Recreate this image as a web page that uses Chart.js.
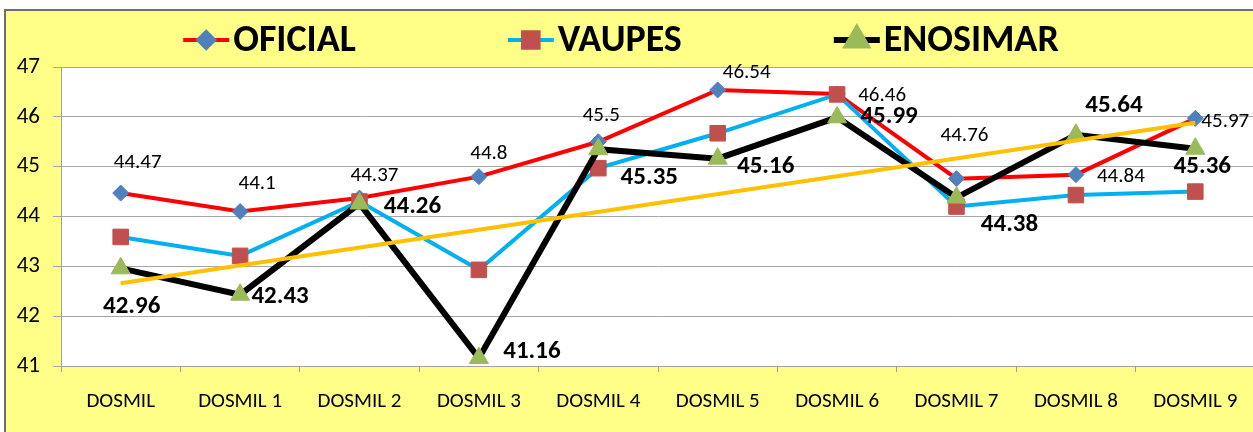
<!DOCTYPE html>
<html>
<head>
<meta charset="utf-8">
<script src="https://cdn.jsdelivr.net/npm/chart.js@4"></script>
<style>
html, body { margin: 0; padding: 0; background: #fff; overflow: hidden; }
canvas { display: block; }
</style>
</head>
<body>
<canvas id="chart" width="1267" height="432"></canvas>
<script>
var categories = ["DOSMIL", "DOSMIL 1", "DOSMIL 2", "DOSMIL 3", "DOSMIL 4", "DOSMIL 5", "DOSMIL 6", "DOSMIL 7", "DOSMIL 8", "DOSMIL 9"];
var oficial = [44.47, 44.1, 44.37, 44.8, 45.5, 46.54, 46.46, 44.76, 44.84, 45.97];
var vaupes = [43.59, 43.21, 44.3, 42.93, 44.97, 45.67, 46.45, 44.2, 44.43, 44.5];
var enosimar = [42.96, 42.43, 44.26, 41.16, 45.35, 45.16, 45.99, 44.38, 45.64, 45.36];
// linea de tendencia (extremos)
var trend = [42.66, null, null, null, null, null, null, null, null, 45.88];
var yMin = 41, yMax = 47, yStep = 1;

var fontFamily = 'Carlito, Lato, "Liberation Sans", sans-serif';

// desplazamiento de las etiquetas respecto al punto (px)
var oficialLabelOffsets = [[17,-30],[17,-28],[15,-22],[10,-23],[3,-26],[29,-17],[45,2],[8,-43],[45,2],[30,3]];
var enosimarLabelOffsets = [[11,38],[40,2],[53,3],[53,-6],[51,29],[48,8],[52,-1],[53,27],[38,-29],[7,18]];

var backgroundPlugin = {
  id: 'excelBackground',
  beforeDraw: function(chart) {
    var ctx = chart.ctx, a = chart.chartArea;
    ctx.save();
    ctx.fillStyle = '#ffffff';
    ctx.fillRect(0, 0, chart.width, chart.height);
    ctx.fillStyle = '#ffff88';
    ctx.fillRect(5, 10, chart.width, chart.height);
    ctx.strokeStyle = '#6e6e6e';
    ctx.lineWidth = 2;
    ctx.beginPath();
    ctx.moveTo(5, chart.height + 5);
    ctx.lineTo(5, 10);
    ctx.lineTo(chart.width + 5, 10);
    ctx.stroke();
    ctx.fillStyle = '#ffffff';
    ctx.fillRect(a.left, a.top, a.right - a.left, a.bottom - a.top);
    ctx.restore();
  }
};

var labelPlugin = {
  id: 'valueLabels',
  afterDatasetsDraw: function(chart) {
    var ctx = chart.ctx;
    ctx.save();
    ctx.fillStyle = '#000';
    ctx.textAlign = 'center';
    ctx.textBaseline = 'middle';
    chart.data.datasets.forEach(function(ds, i) {
      if (!ds.labelOffsets) return;
      var meta = chart.getDatasetMeta(i);
      ctx.font = ds.labelFont;
      meta.data.forEach(function(pt, j) {
        var off = ds.labelOffsets[j];
        ctx.fillText(String(ds.data[j]), pt.x + off[0], pt.y + off[1]);
      });
    });
    ctx.restore();
  }
};

var legendPlugin = {
  id: 'excelLegend',
  afterDraw: function(chart) {
    var ctx = chart.ctx;
    var items = chart.data.datasets.filter(function(d) { return d.label; });
    var symW = 46, textGap = 4, itemGap = 152, y = 40;
    ctx.save();
    ctx.font = 'bold 38px ' + fontFamily;
    var total = 0;
    items.forEach(function(d, i) {
      total += symW + textGap + ctx.measureText(d.label).width + (i ? itemGap : 0);
    });
    var x = 621 - total / 2;
    items.forEach(function(d) {
      ctx.strokeStyle = d.borderColor;
      ctx.lineWidth = d.borderWidth;
      ctx.beginPath();
      ctx.moveTo(x, y);
      ctx.lineTo(x + symW, y);
      ctx.stroke();
      ctx.fillStyle = d.pointBackgroundColor;
      ctx.strokeStyle = d.pointBorderColor;
      Chart.helpers.drawPoint(ctx, {pointStyle: d.pointStyle, radius: d.pointRadius, rotation: 0, borderWidth: 1}, x + symW / 2, y);
      ctx.fillStyle = '#000';
      ctx.textBaseline = 'middle';
      ctx.textAlign = 'left';
      ctx.fillText(d.label, x + symW + textGap, y + 1);
      x += symW + textGap + ctx.measureText(d.label).width + itemGap;
    });
    ctx.restore();
  }
};

new Chart(document.getElementById('chart'), {
  type: 'line',
  data: {
    labels: categories,
    datasets: [{
      label: 'OFICIAL',
      data: oficial,
      borderColor: '#ff0000',
      borderWidth: 4,
      pointStyle: 'rectRot',
      pointRadius: 8,
      pointBackgroundColor: '#4f81bd',
      pointBorderColor: '#4f81bd',
      pointBorderWidth: 1,
      labelOffsets: oficialLabelOffsets,
      labelFont: '21px ' + fontFamily,
      order: 3
    }, {
      label: 'VAUPES',
      data: vaupes,
      borderColor: '#00b0f0',
      borderWidth: 4,
      pointStyle: 'rect',
      pointRadius: 11,
      pointBackgroundColor: '#c0504d',
      pointBorderColor: '#c0504d',
      pointBorderWidth: 1,
      order: 2
    }, {
      label: 'ENOSIMAR',
      data: enosimar,
      borderColor: '#000000',
      borderWidth: 6,
      pointStyle: 'triangle',
      pointRadius: 11,
      pointBackgroundColor: '#9bbb59',
      pointBorderColor: '#9bbb59',
      pointBorderWidth: 1,
      labelOffsets: enosimarLabelOffsets,
      labelFont: 'bold 25px ' + fontFamily,
      order: 1
    }, {
      data: trend,
      borderColor: '#ffc000',
      borderWidth: 4,
      pointRadius: 0,
      spanGaps: true,
      order: 0
    }]
  },
  options: {
    responsive: false,
    animation: false,
    layout: { padding: { top: 67, right: 2, bottom: 0, left: 0 } },
    plugins: {
      legend: { display: false },
      tooltip: { enabled: false }
    },
    elements: { line: { tension: 0 } },
    scales: {
      x: {
        offset: true,
        afterFit: function(s) { s.height = 66; },
        grid: { offset: true, drawOnChartArea: false, drawTicks: true, tickLength: 6, color: '#a0a0a0' },
        border: { color: '#a0a0a0', width: 1 },
        ticks: { color: '#000', font: { family: fontFamily, size: 21 }, padding: 17, maxRotation: 0, autoSkip: false }
      },
      y: {
        min: yMin,
        max: yMax,
        afterFit: function(s) { s.width = 61; },
        grid: { color: '#a6a6a6', tickLength: 8, lineWidth: 1 },
        border: { color: '#a0a0a0', width: 1 },
        ticks: { stepSize: yStep, color: '#000', font: { family: fontFamily, size: 23 }, padding: 13 }
      }
    }
  },
  plugins: [backgroundPlugin, labelPlugin, legendPlugin]
});
</script>
</body>
</html>
